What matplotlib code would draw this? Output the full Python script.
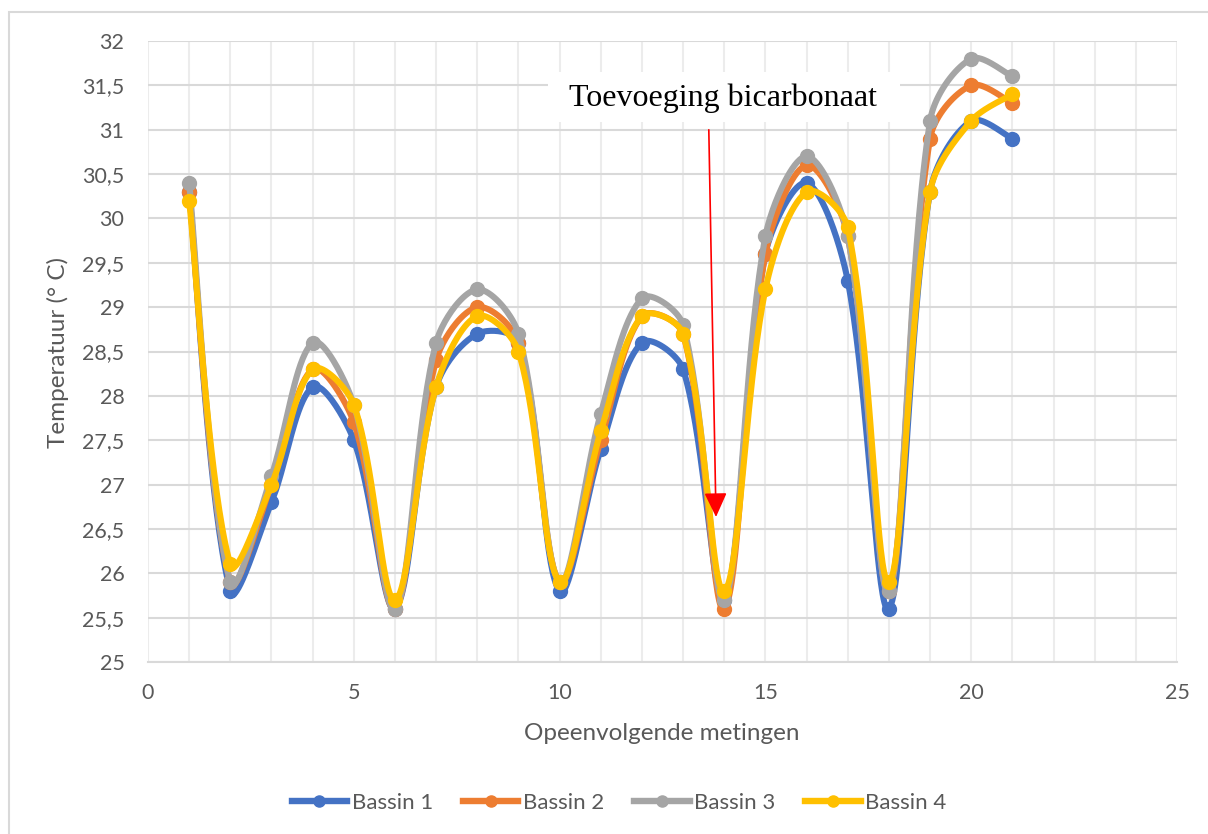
import numpy as np
import matplotlib
matplotlib.use("Agg")
import matplotlib.pyplot as plt
from matplotlib.lines import Line2D
from matplotlib.patches import Rectangle
from matplotlib.ticker import FuncFormatter, MultipleLocator

# data
metingen = list(range(1, 22))
bassin_1 = [30.3, 25.8, 26.8, 28.1, 27.5, 25.6, 28.1, 28.7, 28.6, 25.8, 27.4,
            28.6, 28.3, 25.7, 29.6, 30.4, 29.3, 25.6, 30.3, 31.1, 30.9]
bassin_2 = [30.3, 25.9, 27.0, 28.3, 27.7, 25.6, 28.4, 29.0, 28.6, 25.9, 27.5,
            28.9, 28.7, 25.6, 29.6, 30.6, 29.8, 25.8, 30.9, 31.5, 31.3]
bassin_3 = [30.4, 25.9, 27.1, 28.6, 27.9, 25.6, 28.6, 29.2, 28.7, 25.9, 27.8,
            29.1, 28.8, 25.7, 29.8, 30.7, 29.8, 25.8, 31.1, 31.8, 31.6]
bassin_4 = [30.2, 26.1, 27.0, 28.3, 27.9, 25.7, 28.1, 28.9, 28.5, 25.9, 27.6,
            28.9, 28.7, 25.8, 29.2, 30.3, 29.9, 25.9, 30.3, 31.1, 31.4]
series_names = ["Bassin 1", "Bassin 2", "Bassin 3", "Bassin 4"]
series_colors = ["#4472C4", "#ED7D31", "#A5A5A5", "#FFC000"]

plt.rcParams['font.family'] = ['Lato', 'DejaVu Sans']
txt_col = "#595959"


def smooth(ax, xs, ys, n=40):
    # excel-like smoothed line: bezier segments built in pixel space
    pts = ax.transData.transform(np.column_stack([xs, ys]))
    out = [pts[0]]
    m = len(pts)
    for i in range(m - 1):
        p0, p3 = pts[i], pts[i + 1]
        pm = pts[i - 1] if i > 0 else pts[i]
        pp = pts[i + 2] if i + 2 < m else pts[i + 1]
        d_prev = np.hypot(*(p0 - pm))
        d_cur = np.hypot(*(p3 - p0))
        d_next = np.hypot(*(pp - p3))
        f1 = d_cur / (d_prev + d_cur) / 3 if d_prev > 0 else 1 / 6
        f2 = d_cur / (d_cur + d_next) / 3 if d_next > 0 else 1 / 6
        c1 = p0 + (p3 - pm) * f1
        c2 = p3 - (pp - p0) * f2
        t = np.linspace(0, 1, n)[1:, None]
        seg = ((1 - t) ** 3) * p0 + 3 * ((1 - t) ** 2) * t * c1 \
            + 3 * (1 - t) * t ** 2 * c2 + t ** 3 * p3
        out.extend(seg)
    out = ax.transData.inverted().transform(np.array(out))
    return out[:, 0], out[:, 1]


fig = plt.figure(figsize=(12.08, 8.34), dpi=100)
ax = fig.add_axes([148 / 1208, 1 - 662 / 834, 1029 / 1208, 621 / 834])
ax.set_xlim(0, 25)
ax.set_ylim(25, 32)

# outer chart border
fig.patches.append(Rectangle((9 / 1208, -0.1), 1.2, 1.1 - 12 / 834,
                             transform=fig.transFigure, fill=False,
                             edgecolor="#d9d9d9", lw=1.5))

for ys, col in zip([bassin_1, bassin_2, bassin_3, bassin_4], series_colors):
    sx, sy = smooth(ax, metingen, ys)
    ax.plot(sx, sy, color=col, lw=4.4, solid_capstyle='round', zorder=3)
    ax.plot(metingen, ys, 'o', color=col, ms=10, zorder=3)

# axes styling
for s in ['left', 'right', 'top']:
    ax.spines[s].set_visible(False)
ax.spines['bottom'].set_color("#d9d9d9")
ax.spines['bottom'].set_linewidth(1.5)
ax.yaxis.set_major_locator(MultipleLocator(0.5))
ax.xaxis.set_major_locator(MultipleLocator(5))
ax.xaxis.set_minor_locator(MultipleLocator(1))
ax.yaxis.set_major_formatter(FuncFormatter(lambda v, p: f"{v:g}".replace('.', ',')))
ax.grid(axis='y', which='major', color="#d9d9d9", lw=1.5, zorder=0)
ax.grid(axis='x', which='both', color="#ececec", lw=1.5, zorder=0)
ax.set_axisbelow(True)
ax.tick_params(which='both', length=0, labelsize=15.5, colors=txt_col)
ax.tick_params(axis='y', pad=17)
ax.tick_params(axis='x', pad=15)

fig.text(58 / 1208, 1 - 352 / 834, "Temperatuur (° C)", rotation=90,
         ha='center', va='center', fontsize=17.5, color=txt_col)
fig.text(662 / 1208, 1 - 734 / 834, "Opeenvolgende metingen",
         ha='center', va='center', fontsize=17.5, color=txt_col)

# annotation box and arrow
ax.add_patch(Rectangle((0.389, 0.8696), 0.342, 0.081, transform=ax.transAxes,
                       facecolor='white', edgecolor='none', zorder=5))
ax.text(0.559, 0.908, "Toevoeging bicarbonaat", transform=ax.transAxes,
        ha='center', va='center', fontsize=23, family='Liberation Serif',
        color='black', zorder=6)
ax.annotate('', xy=(0.552, 0.2335), xytext=(0.545, 0.857),
            xycoords='axes fraction', textcoords='axes fraction',
            arrowprops=dict(arrowstyle='-|>,head_length=0.75,head_width=0.35',
                            color='red', lw=1.2, mutation_scale=20,
                            shrinkA=0, shrinkB=0), zorder=6)

handles = [Line2D([], [], color=c, lw=4.6, marker='o', ms=8) for c in series_colors]
fig.legend(handles, series_names, loc='center', bbox_to_anchor=(619 / 1208, 1 - 803 / 834),
           ncol=4, frameon=False, fontsize=16, labelcolor=txt_col,
           handlelength=2.5, handletextpad=0.2, columnspacing=1.35)

fig.savefig("out.png", dpi=100)
